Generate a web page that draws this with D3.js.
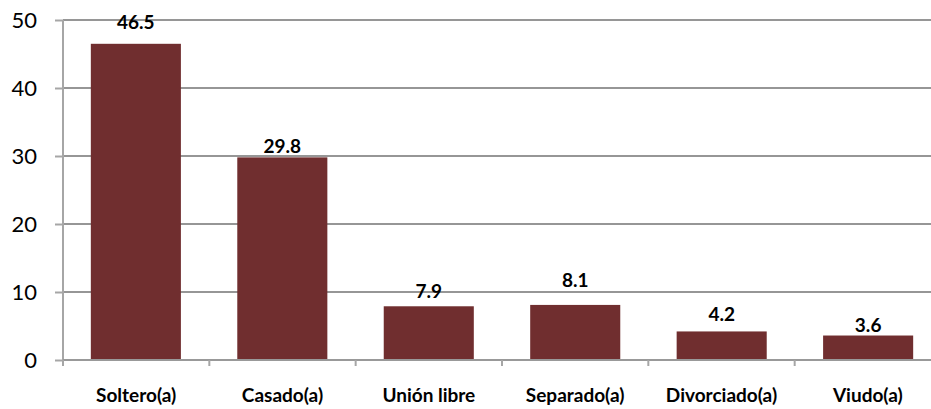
<!DOCTYPE html>
<html>
<head>
<meta charset="utf-8">
<script src="https://cdn.jsdelivr.net/npm/d3@7"></script>
<style>
  html, body { margin: 0; padding: 0; background: #fff; }
  svg { display: block; }
</style>
</head>
<body>
<svg id="chart" width="931" height="409"></svg>
<script>
const categories = ["Soltero(a)", "Casado(a)", "Unión libre", "Separado(a)", "Divorciado(a)", "Viudo(a)"];
const values = [46.5, 29.8, 7.9, 8.1, 4.2, 3.6];
const yTicks = [0, 10, 20, 30, 40, 50];

// label gaps above bar tops (as placed in the original)
const labelGap = [15, 4, 8, 18, 10, 4];

(function () {
const svg = d3.select("#chart");
const mLeft = 63, mRight = 941, mTop = 20, mBottom = 360;
const gridColor = "#969696";
const barColor = "#702e2f";

const x = d3.scaleBand().domain(categories).range([mLeft, mRight]).paddingInner(0.385).paddingOuter(0.19);
const xb = d3.scaleBand().domain(categories).range([mLeft, mRight]);
const y = d3.scaleLinear().domain([0, 50]).range([mBottom, mTop]);

// gridlines
svg.append("g").selectAll("line").data(yTicks).join("line")
  .attr("x1", mLeft).attr("x2", mRight)
  .attr("y1", d => y(d)).attr("y2", d => y(d))
  .attr("stroke", gridColor).attr("stroke-width", 2);

// y axis
const yAxis = d3.axisLeft(y).tickValues(yTicks).tickSize(8).tickPadding(18).tickFormat(d3.format("d"));
const ya = svg.append("g").attr("transform", `translate(${mLeft},0)`).call(yAxis);
ya.select(".domain").attr("stroke", "#a6a6a6").attr("stroke-width", 2).attr("d", `M0,${mTop}V${mBottom + 6}`);
ya.selectAll(".tick line").attr("stroke", "#a6a6a6").attr("stroke-width", 2);
ya.selectAll(".tick text").attr("font-family", "Lato, sans-serif").attr("font-size", 22).attr("fill", "#000").attr("dy", "0.36em");

// bars
svg.append("g").selectAll("rect").data(values).join("rect")
  .attr("x", (d, i) => x(categories[i]))
  .attr("width", x.bandwidth())
  .attr("y", d => y(d))
  .attr("height", d => y(0) - y(d))
  .attr("fill", barColor);

// x axis line and ticks
svg.append("line").attr("x1", mLeft).attr("x2", mRight).attr("y1", mBottom).attr("y2", mBottom)
  .attr("stroke", "#999").attr("stroke-width", 2);
const boundaries = categories.map(c => xb(c)).concat([mRight]);
svg.append("g").selectAll("line").data(boundaries).join("line")
  .attr("x1", d => d).attr("x2", d => d)
  .attr("y1", mBottom).attr("y2", mBottom + 6)
  .attr("stroke", "#a6a6a6").attr("stroke-width", 2);

// category labels
svg.append("g").selectAll("text").data(categories).join("text")
  .attr("x", d => xb(d) + xb.bandwidth() / 2)
  .attr("y", 402)
  .attr("text-anchor", "middle")
  .attr("font-family", "Lato, sans-serif").attr("font-weight", "bold").attr("font-size", 19)
  .attr("fill", "#000")
  .text(d => d);

// value labels
svg.append("g").selectAll("text").data(values).join("text")
  .attr("x", (d, i) => x(categories[i]) + x.bandwidth() / 2)
  .attr("y", (d, i) => y(d) - labelGap[i])
  .attr("text-anchor", "middle")
  .attr("font-family", "Lato, sans-serif").attr("font-weight", "bold").attr("font-size", 19)
  .attr("fill", "#000")
  .text(d => d.toFixed(1));
})();
</script>
</body>
</html>
